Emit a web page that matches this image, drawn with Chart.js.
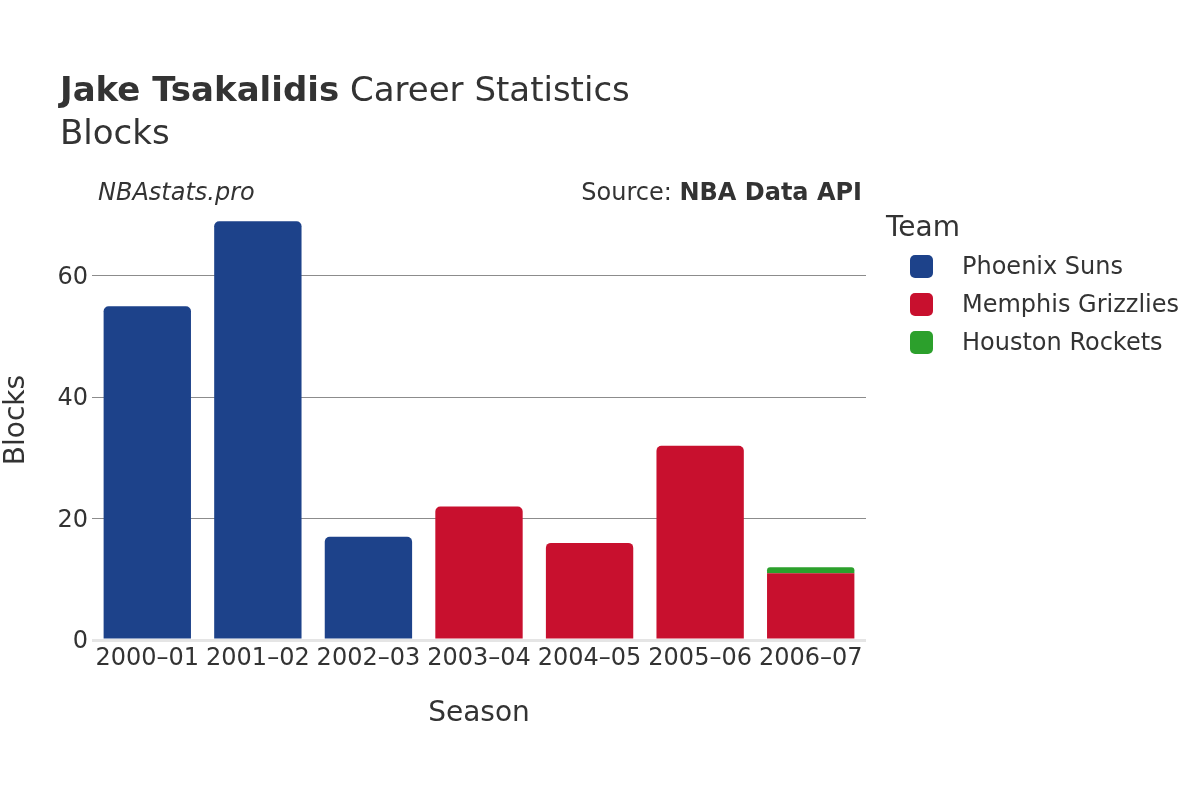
<!DOCTYPE html>
<html>
<head>
<meta charset="utf-8">
<script src="https://cdn.jsdelivr.net/npm/chart.js@4"></script>
<style>
  html, body { margin: 0; padding: 0; background: #fff; }
  #wrap { position: relative; width: 1200px; height: 800px; font-family: "DejaVu Sans", sans-serif; color: #333; }
  #wrap canvas { position: absolute; left: 0; top: 0; }
  .t { position: absolute; white-space: nowrap; }
  .mk { position: absolute; width: 23px; height: 23px; border-radius: 5px; }
</style>
</head>
<body>
<div id="wrap">
  <canvas id="c" width="1200" height="800"></canvas>
  <div class="t" style="left:60px; top:69px; font-size:34px; line-height:40.8px;"><b>Jake Tsakalidis</b> Career Statistics</div>
  <div class="t" style="left:60px; top:112px; font-size:34px; line-height:40.8px;">Blocks</div>
  <div class="t" style="left:98px; top:178px; font-size:24px; line-height:28.8px; font-style:italic;">NBAstats.pro</div>
  <div class="t" style="right:338px; top:178px; font-size:24px; line-height:28.8px;">Source: <b>NBA Data API</b></div>
  <div id="legend"></div>
</div>
<script>
const seasons = ["2000–01", "2001–02", "2002–03", "2003–04", "2004–05", "2005–06", "2006–07"];
const teams = ["Phoenix Suns", "Memphis Grizzlies", "Houston Rockets"];
const phoenixSuns = [55, 69, 17, null, null, null, null];
const memphisGrizzlies = [null, null, null, 22, 16, 32, 11];
const houstonRockets = [null, null, null, null, null, null, 1];
const teamColors = ["#1d428a", "#c8102e", "#2ca02c"];
const yTicks = [0, 20, 40, 60];
const yMax = 72.5;

const seriesValues = [phoenixSuns, memphisGrizzlies, houstonRockets];

function topRadius(ctx) {
  const di = ctx.datasetIndex, i = ctx.dataIndex;
  for (let d = di + 1; d < seriesValues.length; d++) {
    if (seriesValues[d][i] != null) return 0;
  }
  return { topLeft: 5, topRight: 5, bottomLeft: 0, bottomRight: 0 };
}

const datasets = teams.map((name, k) => ({
  label: name,
  data: seriesValues[k],
  backgroundColor: teamColors[k],
  borderWidth: 0,
  borderRadius: topRadius,
  borderSkipped: false,
  categoryPercentage: 1.0,
  barPercentage: 0.79
}));

// HTML legend built from the same arrays
const leg = document.getElementById('legend');
const lt = document.createElement('div');
lt.className = 't';
lt.style.cssText = 'left:886px; top:210px; font-size:28px; line-height:33.6px;';
lt.textContent = 'Team';
leg.appendChild(lt);
teams.forEach((name, k) => {
  const cy = 266 + k * 38;
  const m = document.createElement('div');
  m.className = 'mk';
  m.style.left = '910px';
  m.style.top = (cy - 11.5) + 'px';
  m.style.background = teamColors[k];
  leg.appendChild(m);
  const tx = document.createElement('div');
  tx.className = 't';
  tx.style.cssText = 'left:962px; font-size:24px; line-height:28.8px;';
  tx.style.top = (cy - 14.4) + 'px';
  tx.textContent = name;
  leg.appendChild(tx);
});

Chart.defaults.font.family = '"DejaVu Sans", sans-serif';
Chart.defaults.color = '#333';

new Chart(document.getElementById('c'), {
  type: 'bar',
  data: { labels: seasons, datasets },
  options: {
    responsive: false,
    animation: false,
    devicePixelRatio: 1,
    layout: { padding: { top: 200, left: 0, right: 334, bottom: 69 } },
    plugins: { legend: { display: false }, title: { display: false }, tooltip: { enabled: false } },
    scales: {
      x: {
        stacked: true,
        grid: { display: false, drawTicks: false },
        border: { display: false },
        ticks: { font: { size: 24 }, color: '#333', padding: 4, maxRotation: 0, autoSkip: false },
        title: { display: true, text: 'Season', font: { size: 28 }, color: '#333', padding: 0 },
        afterFit(scale) { scale.height = 91; }
      },
      y: {
        stacked: true,
        min: 0,
        max: yMax,
        afterBuildTicks(scale) { scale.ticks = yTicks.map(v => ({ value: v })); },
        grid: {
          drawTicks: false,
          color: c => (c.tick && c.tick.value === 0) ? '#e5e5e5' : '#8c8c8c',
          lineWidth: c => (c.tick && c.tick.value === 0) ? 3 : 1
        },
        border: { display: false },
        ticks: { font: { size: 24 }, color: '#333', padding: 4, labelOffset: 2 },
        title: { display: true, text: 'Blocks', font: { size: 28 }, color: '#333', padding: 0 },
        afterFit(scale) { scale.width = 92; }
      }
    }
  }
});
</script>
</body>
</html>
